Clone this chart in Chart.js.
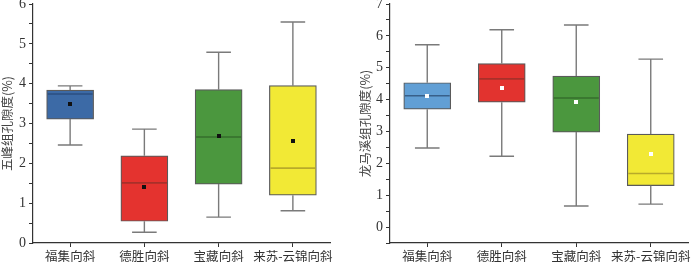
<!DOCTYPE html>
<html><head><meta charset="utf-8">
<script src="https://cdn.jsdelivr.net/npm/chart.js@4/dist/chart.umd.min.js"></script>
<style>
html,body{margin:0;padding:0;background:#fff;}
#wrap{position:relative;width:700px;height:262px;}
.pane{position:absolute;top:0;width:350px;height:262px;}
</style></head>
<body>
<div id="wrap">
  <div class="pane" style="left:0"><canvas id="c1" width="350" height="262"></canvas></div>
  <div class="pane" style="left:350px"><canvas id="c2" width="350" height="262"></canvas></div>
</div>
<script>
const categories = ['福集向斜', '德胜向斜', '宝藏向斜', '来苏-云锦向斜'];

// 五峰组孔隙度 (%)
const wfMin    = [2.46, 0.27, 0.65, 0.81];
const wfQ1     = [3.11, 0.545, 1.48, 1.20];
const wfMedian = [3.74, 1.51, 2.66, 1.88];
const wfQ3     = [3.84, 2.19, 3.85, 3.95];
const wfMax    = [3.945, 2.86, 4.79, 5.55];
const wfMean   = [3.48, 1.41, 2.68, 2.555];

// 龙马溪组孔隙度 (%)
const lmMin    = [2.48, 2.22, 0.66, 0.72];
const lmQ1     = [3.70, 3.92, 2.98, 1.30];
const lmMedian = [4.12, 4.65, 4.05, 1.68];
const lmQ3     = [4.53, 5.13, 4.74, 2.92];
const lmMax    = [5.72, 6.19, 6.34, 5.27];
const lmMean   = [4.11, 4.35, 3.91, 2.28];

const wfTicks = [0, 1, 2, 3, 4, 5, 6];
const lmTicks = [0, 1, 2, 3, 4, 5, 6, 7];

function boxPlugin(stats, fills, medColors, meanColor) {
  return {
    id: 'boxextras',
    afterDatasetsDraw(chart) {
      const ctx = chart.ctx;
      const y = chart.scales.y;
      const meta = chart.getDatasetMeta(0);
      ctx.save();
      meta.data.forEach((bar, i) => {
        const cx = bar.x;
        const half = bar.width / 2;
        const capHalf = 12.3;
        const yMin = y.getPixelForValue(stats.min[i]);
        const yMax = y.getPixelForValue(stats.max[i]);
        const yQ1 = y.getPixelForValue(stats.q1[i]);
        const yQ3 = y.getPixelForValue(stats.q3[i]);
        const yMed = y.getPixelForValue(stats.median[i]);
        const yMean = y.getPixelForValue(stats.mean[i]);
        // whiskers
        ctx.strokeStyle = '#7a7a7a';
        ctx.lineWidth = 1.4;
        ctx.beginPath();
        ctx.moveTo(cx, yQ3); ctx.lineTo(cx, yMax);
        ctx.moveTo(cx - capHalf, yMax); ctx.lineTo(cx + capHalf, yMax);
        ctx.moveTo(cx, yQ1); ctx.lineTo(cx, yMin);
        ctx.moveTo(cx - capHalf, yMin); ctx.lineTo(cx + capHalf, yMin);
        ctx.stroke();
        // median
        ctx.strokeStyle = medColors[i];
        ctx.lineWidth = 1.6;
        ctx.beginPath();
        ctx.moveTo(cx - half + 1, yMed); ctx.lineTo(cx + half - 1, yMed);
        ctx.stroke();
        // mean
        ctx.fillStyle = meanColor;
        ctx.fillRect(Math.round(cx) - 2, Math.round(yMean) - 2, 4, 4);
      });
      ctx.restore();
    }
  };
}

function makeChart(id, stats, fills, medColors, meanColor, yMin, yMaxV, majorTicks, title, yWidth, rightPad, titlePad) {
  const data = categories.map((c, i) => [stats.q1[i], stats.q3[i]]);
  return new Chart(document.getElementById(id), {
    type: 'bar',
    data: {
      labels: categories,
      datasets: [{
        data: data,
        backgroundColor: fills,
        borderColor: '#5a5a5a',
        borderWidth: 1.2,
        borderSkipped: false,
        barThickness: 47
      }]
    },
    options: {
      responsive: false,
      animation: false,
      devicePixelRatio: 1,
      layout: { padding: { top: 4, right: rightPad, left: 0, bottom: 0 } },
      plugins: { legend: { display: false }, tooltip: { enabled: false } },
      scales: {
        x: {
          grid: { display: true, drawOnChartArea: false, drawTicks: true, tickLength: 4, offset: false, color: '#333', tickColor: '#333' },
          border: { display: true, color: '#333', width: 1.2 },
          ticks: { color: '#333', padding: 2, maxRotation: 0, autoSkip: false,
                   font: { family: '"Noto Sans CJK SC"', size: 12.5 } },
          afterFit(s) { s.height = 19; s.paddingLeft = 0; s.paddingRight = 0; }
        },
        y: {
          min: yMin, max: yMaxV,
          grid: { display: true, drawOnChartArea: false, drawTicks: true, tickLength: 4, color: '#333', tickColor: '#333' },
          border: { display: true, color: '#333', width: 1.2 },
          ticks: {
            stepSize: 0.5, autoSkip: false, color: '#333', padding: 3,
            font: { family: '"Liberation Serif"', size: 14 },
            callback: (v) => majorTicks.includes(v) ? String(v) : ''
          },
          title: { display: true, text: title, color: '#444', padding: { top: titlePad, bottom: 2 },
                   font: { family: '"Noto Sans CJK SC"', size: 12.5 } },
          afterFit(s) { s.width = yWidth; s.paddingTop = 0; s.paddingBottom = 0; }
        }
      }
    },
    plugins: [boxPlugin(stats, fills, medColors, meanColor)]
  });
}

makeChart('c1',
  { min: wfMin, q1: wfQ1, median: wfMedian, q3: wfQ3, max: wfMax, mean: wfMean },
  ['#3c6aa6', '#e4332f', '#4b973e', '#f2e935'],
  ['#2b4f80', '#a8302a', '#356e2c', '#b8aa2a'],
  '#111', 0, 6, wfTicks, '五峰组孔隙度(%)', 33, 20, 0);

makeChart('c2',
  { min: lmMin, q1: lmQ1, median: lmMedian, q3: lmQ3, max: lmMax, mean: lmMean },
  ['#619fd5', '#e2332f', '#4b973e', '#f2e935'],
  ['#38608a', '#a8302a', '#356e2c', '#b8aa2a'],
  '#fff', -0.5, 7, lmTicks, '龙马溪组孔隙度(%)', 40, 12, 8);
</script>
</body></html>
